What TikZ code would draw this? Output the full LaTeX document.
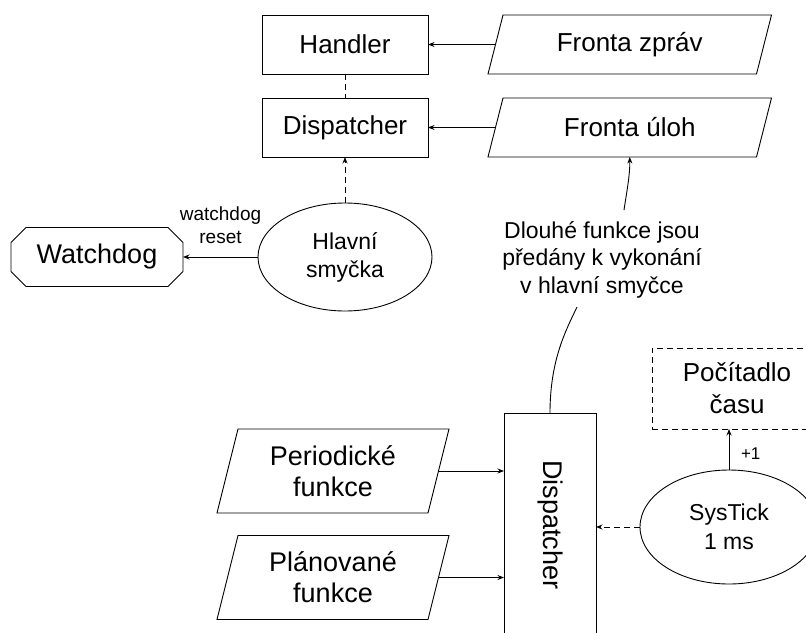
\documentclass[tikz,border=0pt]{standalone}
\usepackage{fontspec}
\setmainfont{Liberation Sans}
\usetikzlibrary{arrows.meta,shapes.geometric}
\begin{document}
\begin{tikzpicture}[x=1pt,y=-1pt,
  every node/.style={outer sep=0pt,inner sep=0pt},
  base/.style={line width=0.9pt},
  procbox/.style={draw,base,rectangle},
  iobox/.style={rectangle},
  dsh/.style={dash pattern=on 6pt off 4pt},
  arr/.style={base,-{Stealth[length=6.5pt,width=5pt]}},
  fsA/.style={font=\fontsize{26}{30}\selectfont},
  fsB/.style={font=\fontsize{27}{31}\selectfont},
  fsC/.style={font=\fontsize{23}{28}\selectfont},
  fsD/.style={font=\fontsize{19}{23}\selectfont},
  fsE/.style={font=\fontsize{17}{20}\selectfont}]
\clip (0,0) rectangle (806,632);
\fill[white] (0,0) rectangle (806,632);

% upper block: handler, dispatcher and their queues
\node[procbox,minimum width=166,minimum height=59,fsA] (hd) at (345,44.5) {Handler};
\node[procbox,minimum width=166,minimum height=59,fsA] (dp) at (345,127.5) {Dispatcher};
\node[iobox,minimum width=268.5,minimum height=59,fsA] (fz) at (629.75,44.5) {Fronta zpráv};
\node[iobox,minimum width=268.5,minimum height=59,fsA] (fu) at (629.75,127.5) {Fronta úloh};

% main loop and watchdog
\node[ellipse,draw,base,minimum width=174,minimum height=108,fsC,align=center] (hs) at (345,257) {Hlavní\\smyčka};
\node[rectangle,minimum width=172,minimum height=59,fsB] (wd) at (97,257) {Watchdog};
\draw[base] ([xshift=15pt]wd.north west) -- ([xshift=-15pt]wd.north east)
  -- ([yshift=-15pt]wd.north east) -- ([yshift=15pt]wd.south east)
  -- ([xshift=-15pt]wd.south east) -- ([xshift=15pt]wd.south west)
  -- ([yshift=15pt]wd.south west) -- ([yshift=-15pt]wd.north west) -- cycle;

% lower block: timed dispatcher
\node[procbox,minimum width=92,minimum height=224] (dv) at (550,525) {};
\node[rotate=-90,fsB] (dvt) at (dv.center) {Dispatcher};
\node[iobox,minimum width=211,minimum height=84,fsB,align=center] (pf) at (333,471) {Periodické\\funkce};
\node[iobox,minimum width=211,minimum height=84,fsB,align=center] (pl) at (333,577.5) {Plánované\\funkce};
\node[draw,base,dsh,minimum width=170,minimum height=81,align=center,font=\fontsize{26}{32}\selectfont] (pc) at (737,388.5) {Počítadlo\\času};
\node[ellipse,draw,base,minimum width=178,minimum height=114,align=center,font=\fontsize{23}{29}\selectfont] (st) at (729,527) {SysTick\\1 ms};

% note on the hand-over of long functions
\node[align=center,font=\fontsize{23}{27.5}\selectfont] (lg) at (602,259.5) {Dlouhé funkce jsou\\předány k vykonání\\v hlavní smyčce};
\coordinate (lgB) at (577,307);
\coordinate (lgT) at (624,210);

% slanted input/output shapes
\foreach \n/\s in {fz/7.5,fu/7.5,pf/10.5,pl/10.5}
  \draw[base] ([xshift=\s pt]\n.north west) -- ([xshift=\s pt]\n.north east)
    -- ([xshift=-\s pt]\n.south east) -- ([xshift=-\s pt]\n.south west) -- cycle;

% connectors
\draw[arr] (fz.west) -- (hd.east);
\draw[arr] (fu.west) -- (dp.east);
\draw[base,dsh] (hd.south) -- (dp.north);
\draw[arr,dsh] (hs.north) -- (dp.south);
\draw[arr] (hs.west) -- node[midway,above=13pt,fsD,align=center] (wl) {watchdog\\reset} (wd.east);
\draw[arr] (pf.east) -- (pf.east -| dv.west);
\draw[arr] (pl.east) -- (pl.east -| dv.west);
\draw[arr,dsh] (st.west) -- (st.west -| dv.east);
\draw[arr] (st.north) -- node[pos=0.4,right=12pt,fsE] (inc) {+1} (st.north |- pc.south);
\draw[base] (dv.north) .. controls (550,360) and (566,330) .. (lgB);
\draw[arr] (lgT) .. controls (627,190) and (630,175) .. (fu.south);
\end{tikzpicture}
\end{document}
